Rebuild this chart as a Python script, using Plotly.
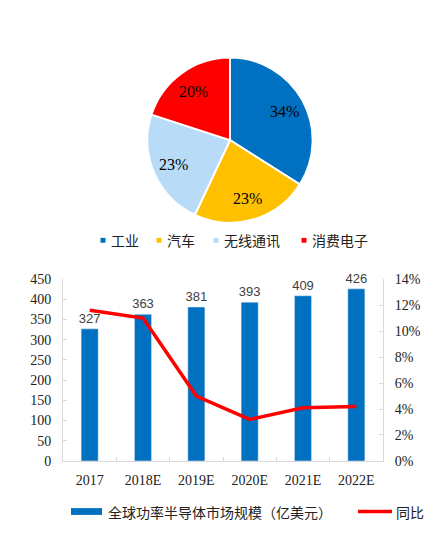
import math
import plotly.graph_objects as go

# ---- data ----
pie_labels = ["工业", "汽车", "无线通讯", "消费电子"]
pie_values = [34, 23, 23, 20]
pie_colors = ["#0070C0", "#FFC000", "#B8DCF8", "#FF0000"]

years = ["2017", "2018E", "2019E", "2020E", "2021E", "2022E"]
market = [327, 363, 381, 393, 409, 426]
yoy = [0.116, 0.110, 0.050, 0.032, 0.041, 0.042]

bar_name = "全球功率半导体市场规模（亿美元）"
line_name = "同比"

W, H = 434, 537
def px(x):
    return x / W
def py(y):
    return 1 - y / H

SERIF = "Liberation Serif, Times New Roman, serif"
CJK = "Noto Sans CJK SC"

# pie geometry (pixels)
PIE_L, PIE_R, PIE_T, PIE_B = 145, 315, 52, 222
PCX, PCY = (PIE_L + PIE_R) / 2, (PIE_T + PIE_B) / 2
PR = (PIE_R - PIE_L) / 2

fig = go.Figure()

fig.add_trace(go.Pie(
    labels=pie_labels, values=pie_values, sort=False, direction="clockwise",
    rotation=0, marker=dict(colors=pie_colors, line=dict(color="white", width=2)),
    textinfo="none",
    domain=dict(x=[px(PIE_L), px(PIE_R)], y=[py(PIE_B), py(PIE_T)]),
    showlegend=False, hoverinfo="label+percent",
))

fig.add_trace(go.Bar(
    x=years, y=market, name=bar_name, marker_color="#0070C0", width=0.32,
    text=[str(v) for v in market], textposition="outside", cliponaxis=False,
    constraintext="none",
    textfont=dict(family="Liberation Sans, Arial", size=13, color="#404040"),
    showlegend=False, xaxis="x", yaxis="y",
))

fig.add_trace(go.Scatter(
    x=years, y=yoy, name=line_name, mode="lines",
    line=dict(color="#FF0000", width=3.5), showlegend=False,
    xaxis="x", yaxis="y2",
))

shapes = []
annotations = []

# pie percentage labels, placed at each slice's mid-angle
total = sum(pie_values)
cum = 0
for v in pie_values:
    mid = (cum + v / 2) / total * 2 * math.pi
    cum += v
    r = 0.73 * PR
    lx = PCX + r * math.sin(mid)
    ly = PCY - r * math.cos(mid)
    annotations.append(dict(text=f"{v}%", xref="paper", yref="paper", x=px(lx), y=py(ly),
                            xanchor="center", yanchor="middle", showarrow=False,
                            font=dict(family=SERIF, size=16, color="black")))

# pie legend
pie_leg_x = [103, 159, 216, 304]
for lab, col, x0 in zip(pie_labels, pie_colors, pie_leg_x):
    shapes.append(dict(type="rect", xref="paper", yref="paper",
                       x0=px(x0 - 2.5), x1=px(x0 + 2.5), y0=py(242.5), y1=py(237.5),
                       fillcolor=col, line=dict(width=0)))
    annotations.append(dict(text=lab, xref="paper", yref="paper", x=px(x0 + 6), y=py(240),
                            xanchor="left", yanchor="middle", showarrow=False,
                            font=dict(family=CJK, size=14, color="#222222")))

# bar/line legend
shapes.append(dict(type="rect", xref="paper", yref="paper",
                   x0=px(71), x1=px(102), y0=py(522.5), y1=py(515.5),
                   fillcolor="#0070C0", line=dict(width=0)))
annotations.append(dict(text=bar_name, xref="paper", yref="paper", x=px(106), y=py(519),
                        xanchor="left", yanchor="middle", showarrow=False,
                        font=dict(family=CJK, size=14, color="#222222")))
shapes.append(dict(type="line", xref="paper", yref="paper",
                   x0=px(358), x1=px(392), y0=py(519), y1=py(519),
                   line=dict(color="#FF0000", width=3.5)))
annotations.append(dict(text=line_name, xref="paper", yref="paper", x=px(394), y=py(519),
                        xanchor="left", yanchor="middle", showarrow=False,
                        font=dict(family=CJK, size=14, color="#222222")))

fig.update_layout(
    width=W, height=H, margin=dict(l=0, r=0, t=0, b=0),
    paper_bgcolor="white", plot_bgcolor="white",
    shapes=shapes, annotations=annotations,
    xaxis=dict(domain=[px(63), px(383)], type="category", showgrid=False,
               showline=True, linecolor="#D9D9D9", linewidth=1,
               ticks="inside", tickson="boundaries", ticklen=4, tickcolor="#D9D9D9",
               tickfont=dict(family=SERIF, size=14, color="#222222"),
               ticklabelstandoff=6, anchor="y"),
    yaxis=dict(domain=[py(467), py(280)], range=[0, 450], dtick=50, showgrid=False,
               zeroline=False, showline=True, linecolor="#D9D9D9", linewidth=1,
               ticks="inside", ticklen=4, tickcolor="#D9D9D9",
               tickfont=dict(family=SERIF, size=14, color="#222222"),
               ticklabelstandoff=8, anchor="x"),
    yaxis2=dict(domain=[py(467), py(280)], range=[0, 0.14], dtick=0.02, tickformat=".0%",
                overlaying="y", side="right", showgrid=False, zeroline=False,
                showline=True, linecolor="#D9D9D9", linewidth=1,
                ticks="inside", ticklen=4, tickcolor="#D9D9D9",
                tickfont=dict(family=SERIF, size=14, color="#222222"),
                ticklabelstandoff=8, anchor="x"),
    bargap=0.68,
)

fig.write_html("out.html", config={"displayModeBar": False})

# make the page exactly the figure size (no default body margin, no extra line space)
with open("out.html", "r", encoding="utf-8") as f:
    html = f.read()
css = ("<style>html,body{margin:0;padding:0;width:434px;height:537px;overflow:hidden;}"
       ".plotly-graph-div{display:block;}</style>")
html = html.replace("<head>", "<head>" + css, 1)
with open("out.html", "w", encoding="utf-8") as f:
    f.write(html)
